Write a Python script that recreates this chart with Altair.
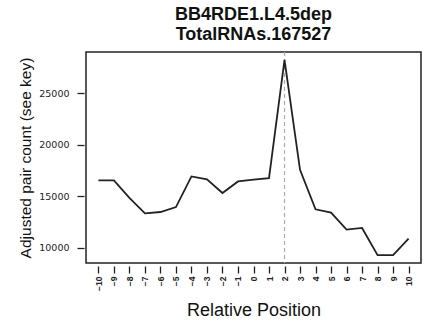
import altair as alt
import pandas as pd

# Adjusted pair counts by relative position
positions = list(range(-10, 11))
pair_counts = [16550, 16550, 14850, 13360, 13490, 13970, 16940, 16650, 15330,
               16450, 16620, 16780, 28250, 17580, 13750, 13425, 11780, 11940,
               9300, 9300, 10910]
peak_position = [2]
y_ticks = [10000, 15000, 20000, 25000]

df = pd.DataFrame({"pos": positions, "count": pair_counts})
peak_df = pd.DataFrame({"pos": peak_position})

FONT = "Liberation Sans"

x_scale = alt.Scale(domain=[-10.8, 10.8], nice=False, zero=False)
y_scale = alt.Scale(domain=[8542, 29008], nice=False, zero=False)

x_axis = alt.Axis(
    title="Relative Position", values=positions, format="d",
    labelAngle=270, labelFontSize=8.5, labelFont=FONT, labelColor="#222",
    labelFontWeight="bold", labelOverlap=False, labelFlush=False,
    titleFont=FONT, titleFontSize=18, titleFontWeight="normal", titleColor="#111",
    titlePadding=11, tickSize=7, tickColor="#222", tickWidth=1.3,
    domain=False, grid=False, offset=3, labelPadding=3,
)
y_axis = alt.Axis(
    title="Adjusted pair count (see key)", values=y_ticks, format="d",
    labelAngle=0, labelFontSize=9.5, labelFont="DejaVu Sans", labelColor="#222",
    labelOverlap=False, labelFlush=False,
    titleFont=FONT, titleFontSize=15.5, titleFontWeight="normal", titleColor="#111",
    titlePadding=5, tickSize=7, tickColor="#222", tickWidth=1.3,
    domain=False, grid=False, offset=2, labelPadding=8,
)

# dashed guide at the peak position, drawn beneath the profile line
peak = alt.Chart(peak_df).mark_rule(
    color="#aaaaaa", strokeWidth=1.2, strokeDash=[4, 3]
).encode(x=alt.X("pos:Q", scale=x_scale, axis=x_axis))

line = alt.Chart(df).mark_line(color="#222", strokeWidth=1.8).encode(
    x=alt.X("pos:Q", scale=x_scale, axis=x_axis),
    y=alt.Y("count:Q", scale=y_scale, axis=y_axis),
)

chart = (
    alt.layer(peak, line)
    .properties(
        width=335, height=211,
        title=alt.TitleParams(
            text=["BB4RDE1.L4.5dep", "TotalRNAs.167527"],
            font=FONT, fontSize=18, fontWeight="bold", color="#111",
            anchor="middle", offset=7, lineHeight=20,
        ),
        autosize=alt.AutoSizeParams(type="none"),
        padding={"left": 86, "top": 52, "right": 5, "bottom": 63},
        background="white",
    )
    .configure_view(stroke="#222", strokeWidth=1.5)
)

chart.save("out.html", embed_options={"renderer": "svg", "actions": False})
